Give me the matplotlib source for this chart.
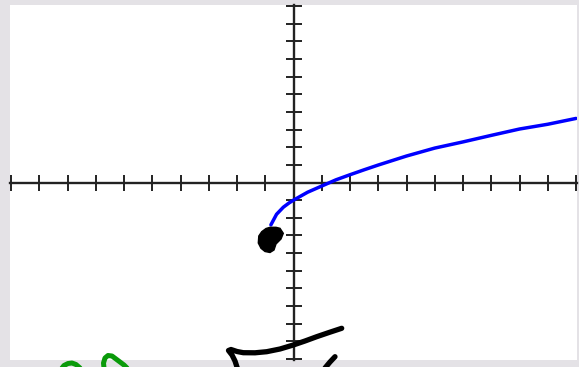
import matplotlib.pyplot as plt

# points along the blue curve (graph units)
curve_x = [-0.8, -0.6, -0.36, -0.15, 0, 0.5, 1, 1.5, 2, 2.5, 3, 4, 5, 6, 7, 8, 9, 10]
curve_y = [-2.4, -1.8, -1.4, -1.15, -1.0, -0.55, -0.2, 0.15, 0.44, 0.72, 0.99, 1.5, 1.95, 2.3, 2.67, 3.03, 3.3, 3.63]

ticks = list(range(-10, 11))

# pen strokes drawn over the screenshot, in pixels (x right, y down)
dot_outline = [(261.7, 231.7), (266, 228.5), (270, 227.3), (276, 227.3), (280, 228.3),
               (283.3, 233.3), (281, 239), (276, 244), (274, 250), (270, 252.5),
               (265, 251.5), (261, 248.3), (258.3, 243), (258.8, 236)]
black_strokes = [
  [(237.3, 368), (235, 361), (232, 355), (228.5, 350.5), (231, 349.5), (237, 351.5),
   (243.3, 352.7), (255, 352.8), (266.7, 351.7), (280, 349), (293.3, 345),
   (305, 341), (316.7, 336.7), (329, 332.5), (341.7, 328.3)],
  [(335, 356.7), (330, 362), (325, 368)],
]
green_strokes = [
  [(62, 368), (64, 365.5), (68, 363.5), (72, 363), (76, 364.5), (80, 368)],
  [(104, 368), (103.5, 363), (105, 358), (108, 355.5), (112, 356), (116, 359),
   (120, 362), (124, 365), (127, 368)],
]

W, H = 579, 367
fig = plt.figure(figsize=(W / 100, H / 100), dpi=100)
fig.patch.set_facecolor('#e4e2e6')

# graph area: x from -10 at px 11 to 10 at px 576, y from 10 at px 6 to -10 at px 359
left, right, top, bottom = 10, 576.5, 5, 360
ax = fig.add_axes([left / W, 1 - bottom / H, (right - left) / W, (bottom - top) / H])
ax.set_facecolor('white')
sx = 20 / 565
sy = 20 / 353
ax.set_xlim(-10 - 1 * sx, 10 + 0.5 * sx)
ax.set_ylim(-10 - 1 * sy, 10 + 1 * sy)

for side in ['top', 'right']:
  ax.spines[side].set_visible(False)
ax.spines['left'].set_position(('data', 0))
ax.spines['bottom'].set_position(('data', 0))
for side in ['left', 'bottom']:
  ax.spines[side].set_color('#222222')
  ax.spines[side].set_linewidth(1.7)
ax.set_xticks(ticks)
ax.set_yticks(ticks)
ax.tick_params(direction='inout', length=11, width=1.4, color='#222222',
               labelbottom=False, labelleft=False)

ax.plot(curve_x, curve_y, color='#0000ff', linewidth=2.5, solid_capstyle='round',
        solid_joinstyle='round', zorder=3)

# overlay for the hand-drawn marks, in pixel coordinates
pen = fig.add_axes([0, 0, 1, 1])
pen.set_xlim(0, W)
pen.set_ylim(H, 0)
pen.axis('off')
pen.patch.set_alpha(0)

pen.fill([p[0] for p in dot_outline], [p[1] for p in dot_outline], color='black', zorder=4)
for stroke in black_strokes:
  pen.plot([p[0] for p in stroke], [p[1] for p in stroke], color='black',
           linewidth=3.8, solid_capstyle='round', solid_joinstyle='round')
for stroke in green_strokes:
  pen.plot([p[0] for p in stroke], [p[1] for p in stroke], color='#0a9a0a',
           linewidth=3.6, solid_capstyle='round', solid_joinstyle='round')

fig.savefig('out.png', dpi=100)
